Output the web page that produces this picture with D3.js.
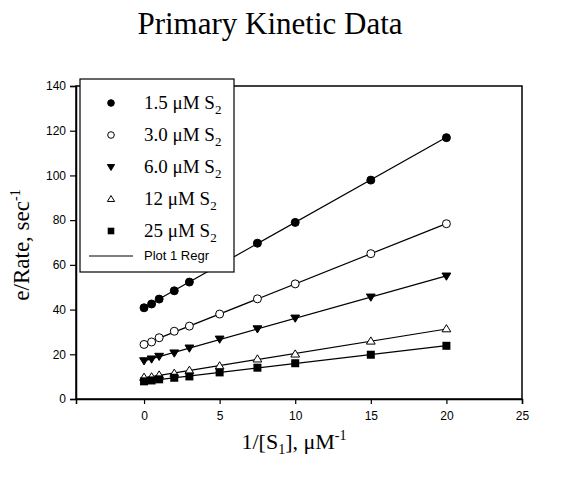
<!DOCTYPE html>
<html>
<head>
<meta charset="utf-8">
<script src="https://cdn.jsdelivr.net/npm/d3@7"></script>
<style>
  body { margin: 0; background: #fff; }
  svg { display: block; }
</style>
</head>
<body>
<div id="root"></div>
<script>
const width = 578;
const height = 477;

// 1/[S1] values, same for every series
const xValues = [0, 0.5, 1, 2, 3, 5, 7.5, 10, 15, 20];

// e/Rate values per S2 concentration
const s2_15 = [40.8, 42.5, 44.7, 48.4, 52.3, 61.0, 69.7, 79.0, 97.9, 116.9];
const s2_30 = [24.4, 25.5, 27.4, 30.3, 32.6, 38.0, 44.8, 51.5, 65.0, 78.4];
const s2_60 = [17.1, 17.9, 19.1, 20.6, 22.8, 26.8, 31.4, 36.2, 45.6, 55.0];
const s2_12 = [9.7, 9.9, 10.7, 11.5, 12.8, 14.8, 17.9, 20.1, 25.9, 31.4];
const s2_25 = [7.9, 8.3, 8.8, 9.5, 10.1, 11.9, 14.0, 16.0, 19.8, 23.8];

const seriesNames = ["1.5 \u03BCM S", "3.0 \u03BCM S", "6.0 \u03BCM S", "12 \u03BCM S", "25 \u03BCM S"];
const seriesValues = [s2_15, s2_30, s2_60, s2_12, s2_25];
const seriesSymbols = ["circleFilled", "circleOpen", "triDown", "triUp", "square"];

const xTicks = [0, 5, 10, 15, 20, 25];
const yTicks = [0, 20, 40, 60, 80, 100, 120, 140];

const margin = { top: 86, right: 56, bottom: 78, left: 76 };

const svg = d3
  .select("#root")
  .append("svg")
  .attr("width", width)
  .attr("height", height);

const x = d3
  .scaleLinear()
  .domain([-4.5, 25])
  .range([margin.left, width - margin.right]);

const y = d3
  .scaleLinear()
  .domain([0, 140])
  .range([height - margin.bottom, margin.top]);

// title
svg
  .append("text")
  .attr("x", 270)
  .attr("y", 34)
  .attr("text-anchor", "middle")
  .attr("font-family", "Liberation Serif, Times New Roman, serif")
  .attr("font-size", 31)
  .text("Primary Kinetic Data");

// frame
svg
  .append("rect")
  .attr("x", x.range()[0])
  .attr("y", y.range()[1])
  .attr("width", x.range()[1] - x.range()[0])
  .attr("height", y.range()[0] - y.range()[1])
  .attr("fill", "none")
  .attr("stroke", "#000")
  .attr("stroke-width", 1.5);

const xAxis = svg
  .append("g")
  .attr("transform", `translate(0,${y(0)})`)
  .call(d3.axisBottom(x).tickValues(xTicks).tickSize(5).tickPadding(7));

const yAxis = svg
  .append("g")
  .attr("transform", `translate(${x.range()[0]},0)`)
  .call(d3.axisLeft(y).tickValues(yTicks).tickSize(6).tickPadding(4));

[xAxis, yAxis].forEach((g) => {
  g.select(".domain").attr("stroke-width", 1.5);
  g.selectAll(".tick line").attr("stroke-width", 1.2);
  g.selectAll("text")
    .attr("font-family", "Liberation Sans, Arial, sans-serif")
    .attr("font-size", 12);
});

// axis titles
const xLabel = svg
  .append("text")
  .attr("x", 294)
  .attr("y", 449)
  .attr("text-anchor", "middle")
  .attr("font-family", "Liberation Serif, Times New Roman, serif")
  .attr("font-size", 22);
xLabel.append("tspan").text("1/[S");
xLabel.append("tspan").attr("font-size", 14).attr("dy", 5).text("1");
xLabel.append("tspan").attr("dy", -5).text("], \u03BCM");
xLabel.append("tspan").attr("font-size", 14).attr("dy", -9).text("-1");

const yLabel = svg
  .append("text")
  .attr("transform", "translate(29,245) rotate(-90)")
  .attr("text-anchor", "middle")
  .attr("font-family", "Liberation Serif, Times New Roman, serif")
  .attr("font-size", 23);
yLabel.append("tspan").text("e/Rate, sec");
yLabel.append("tspan").attr("font-size", 14).attr("dy", -9).text("-1");

// symbol drawing
function drawSymbol(g, type, r) {
  if (type === "circleFilled" || type === "circleOpen") {
    g.append("circle")
      .attr("r", r)
      .attr("fill", type === "circleFilled" ? "#000" : "#fff")
      .attr("stroke", "#000")
      .attr("stroke-width", 1);
  } else if (type === "square") {
    g.append("rect")
      .attr("x", -r)
      .attr("y", -r)
      .attr("width", 2 * r)
      .attr("height", 2 * r)
      .attr("fill", "#000");
  } else {
    const s = type === "triDown" ? 1 : -1;
    const pts = [
      [-r * 1.1, -s * r * 0.75],
      [r * 1.1, -s * r * 0.75],
      [0, s * r * 1.05]
    ];
    g.append("path")
      .attr("d", "M" + pts.join("L") + "Z")
      .attr("fill", type === "triDown" ? "#000" : "#fff")
      .attr("stroke", "#000")
      .attr("stroke-width", 1);
  }
}

// linear regression for each series
function fit(vals) {
  const mx = d3.mean(xValues);
  const my = d3.mean(vals);
  let sxy = 0;
  let sxx = 0;
  xValues.forEach((xv, i) => {
    sxy += (xv - mx) * (vals[i] - my);
    sxx += (xv - mx) * (xv - mx);
  });
  const b = sxy / sxx;
  return { a: my - b * mx, b: b };
}

const plot = svg.append("g");

seriesValues.forEach((vals, k) => {
  const f = fit(vals);
  const x0 = d3.min(xValues);
  const x1 = d3.max(xValues);
  plot
    .append("line")
    .attr("x1", x(x0))
    .attr("y1", y(f.a + f.b * x0))
    .attr("x2", x(x1))
    .attr("y2", y(f.a + f.b * x1))
    .attr("stroke", "#000")
    .attr("stroke-width", 1.2);
});

seriesValues.forEach((vals, k) => {
  plot
    .selectAll(null)
    .data(vals.map((v, i) => [xValues[i], v]))
    .enter()
    .append("g")
    .attr("transform", (d) => `translate(${x(d[0])},${y(d[1])})`)
    .each(function () {
      drawSymbol(d3.select(this), seriesSymbols[k], 4);
    });
});

// legend
const legend = svg.append("g").attr("transform", "translate(80,79)");

legend
  .append("rect")
  .attr("width", 154)
  .attr("height", 193)
  .attr("fill", "#fff")
  .attr("stroke", "#000")
  .attr("stroke-width", 1.2);

seriesNames.forEach((name, k) => {
  const row = legend.append("g").attr("transform", `translate(0,${24 + k * 32})`);
  const sym = row.append("g").attr("transform", "translate(31,0)");
  drawSymbol(sym, seriesSymbols[k], 3.3);
  const t = row
    .append("text")
    .attr("x", 64)
    .attr("y", 6)
    .attr("font-family", "Liberation Serif, Times New Roman, serif")
    .attr("font-size", 19);
  t.append("tspan").text(name);
  t.append("tspan").attr("font-size", 13).attr("dy", 5).text("2");
});

legend
  .append("line")
  .attr("x1", 9)
  .attr("x2", 53)
  .attr("y1", 177)
  .attr("y2", 177)
  .attr("stroke", "#000")
  .attr("stroke-width", 1.2);

legend
  .append("text")
  .attr("x", 64)
  .attr("y", 181)
  .attr("font-family", "Liberation Sans, Arial, sans-serif")
  .attr("font-size", 13)
  .text("Plot 1 Regr");
</script>
</body>
</html>
